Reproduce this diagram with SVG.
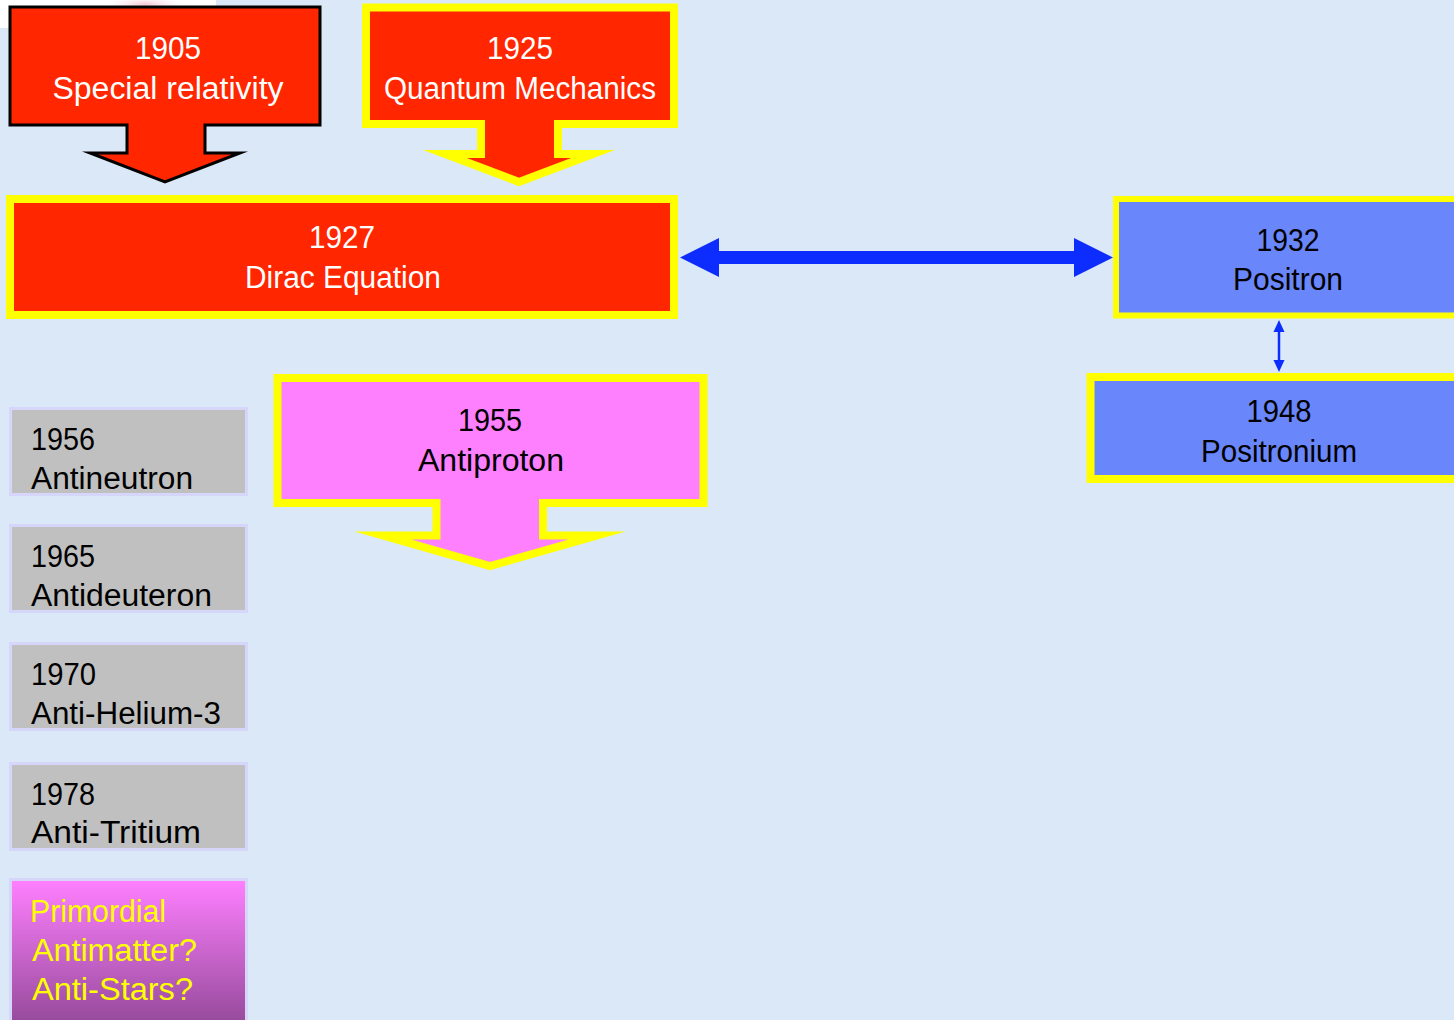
<svg xmlns="http://www.w3.org/2000/svg" width="1454" height="1020" viewBox="0 0 1454 1020">
<defs>
<style>
text{font-family:"Liberation Sans",Arial,sans-serif;font-size:31px}
.w{fill:#ffffff}
.k{fill:#000000}
.y{fill:#ffff00}
.red{fill:#ff2600}
.yb{stroke:#ffff00;stroke-width:8;stroke-miterlimit:12}
.blue{fill:#6a86fb;stroke:#ffff00}
.gray{fill:#c0c0c0;stroke:#d6d6fa;stroke-width:3}
.conn{stroke:#0d2dff;fill:none}
</style>
<linearGradient id="prim" x1="0" y1="0" x2="0" y2="1">
<stop offset="0" stop-color="#ff80ff"/>
<stop offset="1" stop-color="#8a4490"/>
</linearGradient>
<radialGradient id="pink" cx="0.5" cy="0.5" r="0.5">
<stop offset="0" stop-color="#f6c8d4"/>
<stop offset="1" stop-color="#ffffff" stop-opacity="0"/>
</radialGradient>
<marker id="bigHead" markerUnits="userSpaceOnUse" markerWidth="39" markerHeight="39" refX="0" refY="19.5" orient="auto-start-reverse">
<path d="M0,0 L39,19.5 L0,39 Z" fill="#0d2dff"/>
</marker>
<marker id="smallHead" markerUnits="userSpaceOnUse" markerWidth="12" markerHeight="12" refX="0" refY="6" orient="auto-start-reverse">
<path d="M0,0.5 L12,6 L0,11.5 Z" fill="#0d2dff"/>
</marker>
</defs>
<rect x="0" y="0" width="1454" height="1020" fill="#dbe8f7"/>
<rect x="0" y="0" width="216" height="28" fill="#ffffff"/>
<ellipse cx="145" cy="4" rx="45" ry="8" fill="url(#pink)"/>

<g id="node-1905">
<path class="red" d="M10,7 H320 V125 H205 V153 H240 L165,182 L90,153 H127 V125 H10 Z" stroke="#000000" stroke-width="3" stroke-linejoin="miter" stroke-miterlimit="12"/>
<text class="w" x="168" y="59" text-anchor="middle" textLength="66" lengthAdjust="spacingAndGlyphs">1905</text>
<text class="w" x="168" y="99" text-anchor="middle" textLength="231" lengthAdjust="spacingAndGlyphs">Special relativity</text>
</g>

<g id="node-1925">
<path class="red yb" d="M366,7.5 H674 V124 H558 V154 H593 L519,182 L445,154 H481 V124 H366 Z"/>
<text class="w" x="520" y="59" text-anchor="middle" textLength="66" lengthAdjust="spacingAndGlyphs">1925</text>
<text class="w" x="520" y="99" text-anchor="middle" textLength="272" lengthAdjust="spacingAndGlyphs">Quantum Mechanics</text>
</g>

<g id="node-1927">
<rect class="red yb" x="10" y="199" width="664" height="116"/>
<text class="w" x="342" y="248" text-anchor="middle" textLength="66" lengthAdjust="spacingAndGlyphs">1927</text>
<text class="w" x="343" y="288" text-anchor="middle" textLength="196" lengthAdjust="spacingAndGlyphs">Dirac Equation</text>
</g>

<g id="node-1932">
<rect class="blue" stroke-width="6" x="1116" y="199" width="360" height="116.5"/>
<text class="k" x="1288" y="251" text-anchor="middle" textLength="63" lengthAdjust="spacingAndGlyphs">1932</text>
<text class="k" x="1288" y="290" text-anchor="middle" textLength="110" lengthAdjust="spacingAndGlyphs">Positron</text>
</g>

<g id="node-1948">
<rect class="blue" stroke-width="8" x="1090.5" y="377" width="400" height="102"/>
<text class="k" x="1279" y="422" text-anchor="middle" textLength="65" lengthAdjust="spacingAndGlyphs">1948</text>
<text class="k" x="1279" y="462" text-anchor="middle" textLength="156" lengthAdjust="spacingAndGlyphs">Positronium</text>
</g>

<g id="node-1955">
<path class="yb" fill="#ff80ff" d="M277.5,378 H703.5 V503 H543 V535.5 H597 L490,566 L383,535.5 H436.5 V503 H277.5 Z"/>
<text class="k" x="490" y="431" text-anchor="middle" textLength="64" lengthAdjust="spacingAndGlyphs">1955</text>
<text class="k" x="491" y="471" text-anchor="middle" textLength="146" lengthAdjust="spacingAndGlyphs">Antiproton</text>
</g>

<g id="node-1956">
<rect class="gray" x="10.5" y="408.5" width="236" height="86"/>
<text class="k" x="31" y="450" textLength="64" lengthAdjust="spacingAndGlyphs">1956</text>
<text class="k" x="31" y="489" textLength="162" lengthAdjust="spacingAndGlyphs">Antineutron</text>
</g>

<g id="node-1965">
<rect class="gray" x="10.5" y="525.5" width="236" height="86"/>
<text class="k" x="31" y="567" textLength="64" lengthAdjust="spacingAndGlyphs">1965</text>
<text class="k" x="31" y="606" textLength="181" lengthAdjust="spacingAndGlyphs">Antideuteron</text>
</g>

<g id="node-1970">
<rect class="gray" x="10.5" y="643.5" width="236" height="86"/>
<text class="k" x="31" y="685" textLength="65" lengthAdjust="spacingAndGlyphs">1970</text>
<text class="k" x="31" y="724" textLength="190" lengthAdjust="spacingAndGlyphs">Anti-Helium-3</text>
</g>

<g id="node-1978">
<rect class="gray" x="10.5" y="763.5" width="236" height="86"/>
<text class="k" x="31" y="805" textLength="64" lengthAdjust="spacingAndGlyphs">1978</text>
<text class="k" x="31" y="843" textLength="170" lengthAdjust="spacingAndGlyphs">Anti-Tritium</text>
</g>

<g id="node-primordial">
<rect x="10.5" y="879.5" width="236" height="160" fill="url(#prim)" stroke="#d6d6fa" stroke-width="3"/>
<text class="y" x="30" y="922" textLength="136" lengthAdjust="spacingAndGlyphs">Primordial</text>
<text class="y" x="32" y="961" textLength="165" lengthAdjust="spacingAndGlyphs">Antimatter?</text>
<text class="y" x="32" y="1000" textLength="161" lengthAdjust="spacingAndGlyphs">Anti-Stars?</text>
</g>

<g id="connectors">
<line class="conn" x1="719" y1="257.5" x2="1074" y2="257.5" stroke-width="13" marker-start="url(#bigHead)" marker-end="url(#bigHead)"/>
<line class="conn" x1="1279" y1="332" x2="1279" y2="360" stroke-width="2.5" marker-start="url(#smallHead)" marker-end="url(#smallHead)"/>
</g>
</svg>
